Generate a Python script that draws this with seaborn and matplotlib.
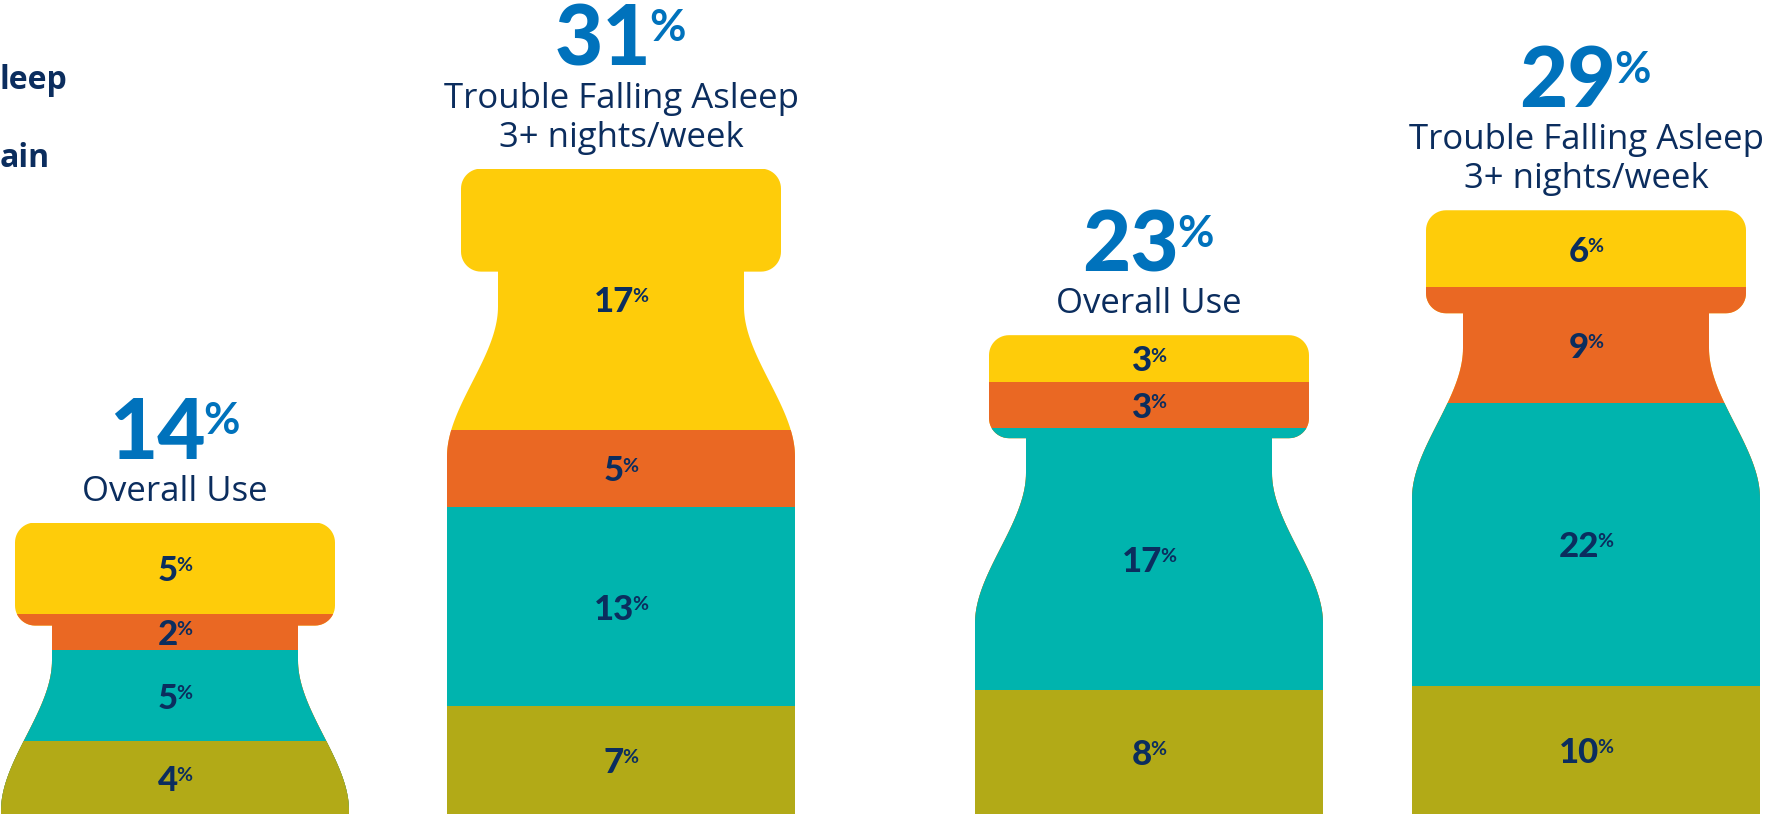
import numpy as np
import pandas as pd
import seaborn as sns
import matplotlib.pyplot as plt
from matplotlib.path import Path
from matplotlib.patches import PathPatch

# ---- data ----
labels = ['Overall Use', 'Trouble Falling Asleep\n3+ nights/week',
          'Overall Use', 'Trouble Falling Asleep\n3+ nights/week']
totals = [14, 31, 23, 29]
# stacked bottom -> top
olive_vals = [4, 7, 8, 10]
teal_vals = [5, 13, 17, 22]
orange_vals = [2, 5, 3, 9]
yellow_vals = [5, 17, 3, 6]
legend_bits = ['leep', 'ain']

# ---- layout / style ----
bottle_x = [175, 621, 1149, 1586]      # bottle centres in pixels
W_PX, H_PX = 1772, 814
YMAX = 39.1
K = H_PX / YMAX                         # pixels per percent unit

layer_vals = [olive_vals, teal_vals, orange_vals, yellow_vals]
layer_cols = ['#B2AA17', '#00B4AE', '#EA6823', '#FECC0A']
blue = '#0072BC'
navy = '#0B2D5E'
NUM_FONT = ['Lato', 'DejaVu Sans']
TXT_FONT = ['Open Sans', 'DejaVu Sans']

sns.set_style('white')
plt.rcParams['font.family'] = NUM_FONT

# segment heights scaled so each bottle reaches its overall total
seg = np.array(layer_vals, dtype=float)
seg = seg / seg.sum(axis=0) * np.array(totals)
cum_top = np.cumsum(seg, axis=0)
cum_bot = cum_top - seg


def bottle_path(cx, top):
    W, r, H, N, B, L, C = 160, 20, 103, 123, 174, 35, 150
    left = [(0, 0)]
    th = np.linspace(np.pi / 2, np.pi, 14)
    left += [(-(W - r) + r * np.cos(t), r - r * np.sin(t)) for t in th]
    th = np.linspace(np.pi, 1.5 * np.pi, 14)
    left += [(-(W - r) + r * np.cos(t), (H - r) - r * np.sin(t)) for t in th]
    left += [(-N, H), (-N, H + L)]
    t = np.linspace(0, 1, 50)
    s = 3 * t ** 2 - 2 * t ** 3
    left += list(zip(-(N + (B - N) * s), H + L + C * t))
    left.append((-B, 3000))
    right = [(-dx, d) for dx, d in reversed(left)]
    pts = np.array(left + right)
    verts = np.column_stack([cx + pts[:, 0], top - pts[:, 1] / K])
    verts = np.vstack([verts, verts[:1]])
    return Path(verts, closed=True)


fig = plt.figure(figsize=(W_PX / 100, H_PX / 100), dpi=100)
ax = fig.add_axes([0, 0, 1, 1])

clips = [PathPatch(bottle_path(cx, tot), transform=ax.transData)
         for cx, tot in zip(bottle_x, totals)]

# draw stacked layers, tallest first, each clipped to its bottle
for j in range(len(layer_vals) - 1, -1, -1):
    n0 = len(ax.patches)
    df = pd.DataFrame({'x': bottle_x, 'top': cum_top[j]})
    sns.barplot(data=df, x='x', y='top', native_scale=True, color=layer_cols[j],
                saturation=1, width=0.9, linewidth=0, errorbar=None, ax=ax)
    for p in ax.patches[n0:]:
        mid = p.get_x() + p.get_width() / 2
        i = int(np.argmin([abs(mid - c) for c in bottle_x]))
        p.set_clip_path(clips[i])

ax.set_xlim(0, W_PX)
ax.set_ylim(0, YMAX)
ax.axis('off')


def pct_label(x, y, num, dx, dy, size, psize, color, ha_shift):
    t = ax.annotate(str(num), xy=(x, y), xytext=(dx + ha_shift, dy),
                    textcoords='offset pixels', ha='center', va='baseline',
                    fontsize=size, fontweight='black', color=color)
    ax.annotate('%', xy=(1.0, 0.93), xycoords=t, xytext=(-2, 0),
                textcoords='offset pixels', ha='left', va='top',
                fontsize=psize, fontweight='bold', color=color)
    return t


# segment labels
for j in range(len(layer_vals)):
    for i, cx in enumerate(bottle_x):
        ymid = (cum_top[j][i] + cum_bot[j][i]) / 2
        pct_label(cx, ymid, layer_vals[j][i], 0, -13, 25, 14, navy, -7)

# headers above each bottle
for i, cx in enumerate(bottle_x):
    lines = labels[i].split('\n')
    base = 22
    for ln in reversed(lines):
        ax.annotate(ln, xy=(cx, totals[i]), xytext=(0, base),
                    textcoords='offset pixels', ha='center', va='baseline',
                    fontsize=25, color=navy, family=TXT_FONT)
        base += 39
    base += 3
    pct_label(cx, totals[i], totals[i], 0, base, 60, 32, blue, -18)

# cut-off legend text at the left edge
for txt, yb in zip(legend_bits, [89, 167]):
    fig.text(0, 1 - yb / H_PX, txt, ha='left', va='baseline',
             fontsize=23, fontweight='bold', color=navy, family=TXT_FONT)

fig.savefig('out.png', dpi=100, facecolor='white')
